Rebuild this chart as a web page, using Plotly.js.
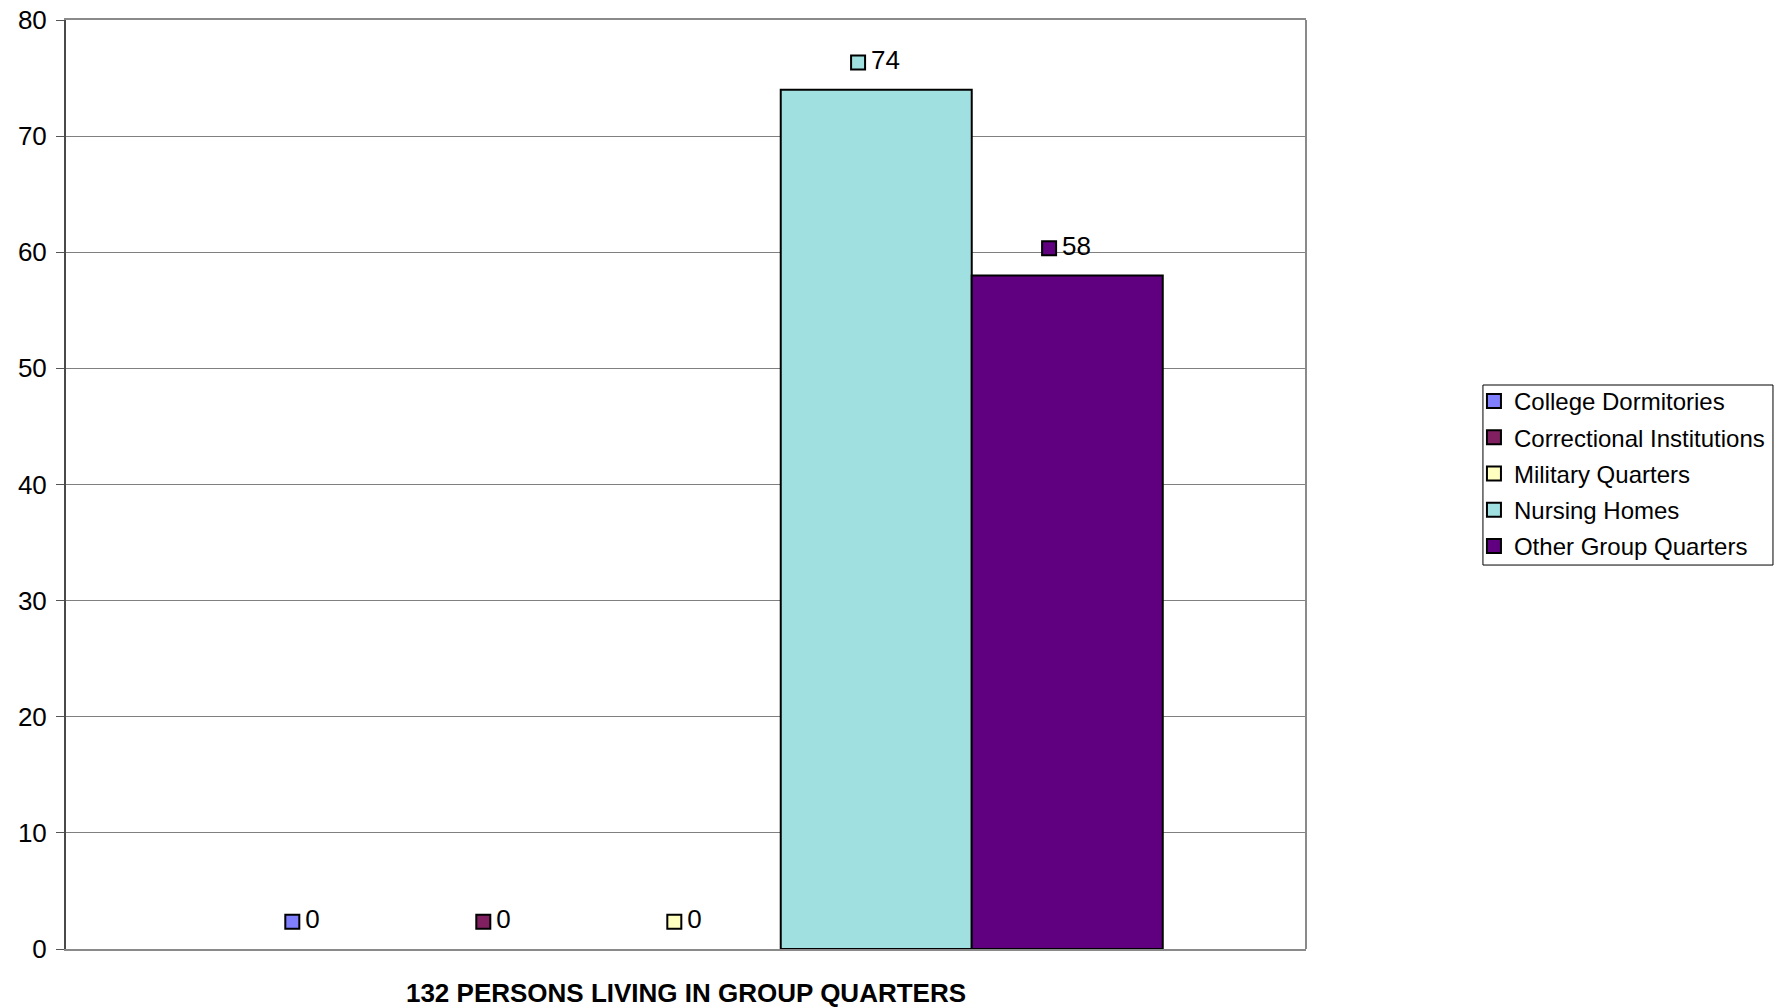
<!DOCTYPE html>
<html>
<head>
<meta charset="utf-8">
<script src="https://cdn.plot.ly/plotly-3.0.1.min.js"></script>
<style>
html,body{margin:0;padding:0;background:#fff;}
#chart{width:1781px;height:1008px;}
</style>
</head>
<body>
<div id="chart"></div>
<script>
// ---- data ----
const seriesNames = ["College Dormitories", "Correctional Institutions", "Military Quarters", "Nursing Homes", "Other Group Quarters"];
const seriesValues = [0, 0, 0, 74, 58];
const categoryTitle = "132 PERSONS LIVING IN GROUP QUARTERS";
const yTickValues = [0, 10, 20, 30, 40, 50, 60, 70, 80];

// ---- styles ----
const seriesColors = ["#8080FF", "#802060", "#FFFFC0", "#A0E0E0", "#600080"];
const FONT = "Liberation Sans, Arial, sans-serif";
const LABEL_SIZE = 26;
const pxPerUnit = 191;       // approx. x-axis pixels per bar slot
const labelYOffset = 2.35;   // data units above bar top
const textGapPx = 13;        // marker centre -> start of number

function labelShift(v) {
  // centre the [marker + number] group over the bar
  const n = String(v).length;
  return -(7.4 + n * 0.556 * LABEL_SIZE) / 2 / pxPerUnit;
}

const traces = [];
// bars (outline only where the bar has height)
seriesNames.forEach((name, i) => {
  traces.push({
    type: "bar",
    name: name,
    legendgroup: name,
    x: [i],
    y: [seriesValues[i]],
    width: 1,
    marker: {color: seriesColors[i], line: {color: "#000", width: [seriesValues[i] === 0 ? 0 : 2]}},
    hoverinfo: "name+y",
    showlegend: false
  });
});
// data-label key squares (also used as legend keys)
seriesNames.forEach((name, i) => {
  traces.push({
    type: "scatter",
    mode: "markers",
    name: name,
    legendgroup: name,
    x: [i + labelShift(seriesValues[i])],
    y: [seriesValues[i] + labelYOffset],
    marker: {symbol: "square", size: 14, color: seriesColors[i], line: {color: "#000", width: 2}},
    showlegend: true,
    hoverinfo: "skip",
    cliponaxis: false
  });
});
// data-label numbers
seriesNames.forEach((name, i) => {
  traces.push({
    type: "scatter",
    mode: "text",
    name: name,
    legendgroup: name,
    x: [i + labelShift(seriesValues[i]) + textGapPx / pxPerUnit],
    y: [seriesValues[i] + labelYOffset],
    text: [String(seriesValues[i])],
    textposition: "middle right",
    textfont: {family: FONT, size: LABEL_SIZE, color: "#000"},
    showlegend: false,
    hoverinfo: "skip",
    cliponaxis: false
  });
});

const layout = {
  width: 1781,
  height: 1008,
  margin: {l: 66, r: 475, t: 20, b: 59, pad: 0},
  paper_bgcolor: "#fff",
  plot_bgcolor: "#fff",
  font: {family: FONT, color: "#000", size: 24},
  showlegend: true,
  barmode: "group",
  xaxis: {
    range: [-1.242, seriesNames.length + 0.25],
    showticklabels: false,
    ticks: "",
    showgrid: false,
    zeroline: false,
    showline: true,
    linecolor: "#8a8a8a",
    linewidth: 2,
    mirror: true,
    fixedrange: true,
    automargin: false,
    title: {text: "<b>" + categoryTitle + "</b>", font: {family: FONT, size: 26, color: "#000"}, standoff: 34}
  },
  yaxis: {
    range: [0, 80],
    tickvals: yTickValues,
    ticktext: yTickValues.map(String),
    ticks: "outside",
    ticklen: 8,
    tickwidth: 1,
    tickcolor: "#555",
    ticklabelstandoff: 4,
    tickfont: {family: FONT, size: 26, color: "#000"},
    showgrid: true,
    gridcolor: "#808080",
    gridwidth: 1,
    zeroline: false,
    showline: true,
    linecolor: "#4a4a4a",
    linewidth: 2,
    fixedrange: true,
    automargin: false
  },
  shapes: [
    {type: "line", xref: "paper", yref: "paper", x0: 1, x1: 1, y0: 0, y1: 1,
     line: {color: "#8a8a8a", width: 2}},
    // legend frame
    {type: "rect", xref: "paper", yref: "paper", x0: 1.1427, x1: 1.3766, y0: 0.4133, y1: 0.6071,
     line: {color: "#000", width: 1}, fillcolor: "rgba(0,0,0,0)", layer: "above"}
  ],
  legend: {
    xref: "container", yref: "container",
    x: 0.8276, y: 0.624, xanchor: "left", yanchor: "top",
    bgcolor: "rgba(0,0,0,0)",
    borderwidth: 0,
    font: {family: FONT, size: 24, color: "#000"},
    itemwidth: 30,
    itemsizing: "trace",
    traceorder: "grouped",
    tracegroupgap: 2
  }
};

Plotly.newPlot("chart", traces, layout, {displayModeBar: false, staticPlot: true});
</script>
</body>
</html>
